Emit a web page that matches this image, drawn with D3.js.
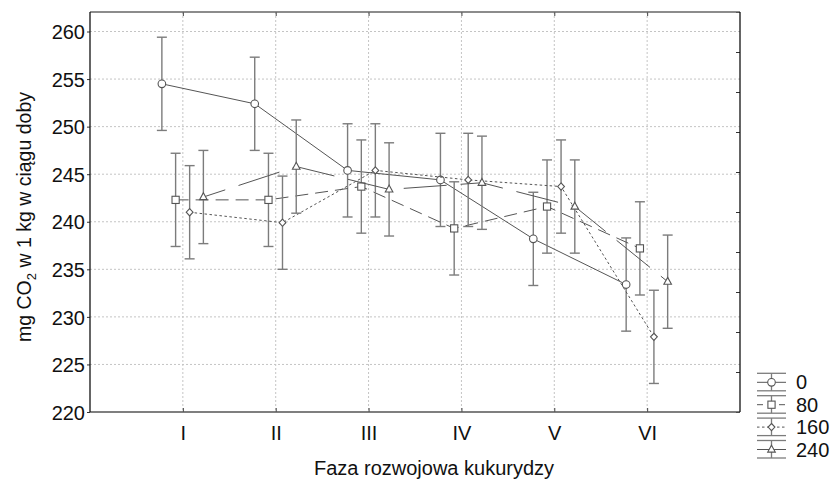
<!DOCTYPE html>
<html>
<head>
<meta charset="utf-8">
<script src="https://cdn.jsdelivr.net/npm/d3@7"></script>
<style>
  body { margin: 0; background: #fff; }
  svg { display: block; font-family: "Liberation Sans", Arial, sans-serif; }
</style>
</head>
<body>
<svg id="chart" width="830" height="480"></svg>
<script>
// phases of maize development and nitrogen doses
var phases = ["I", "II", "III", "IV", "V", "VI"];
var doses = ["0", "80", "160", "240"];

// mean CO2 output, mg per 1 kg per day
var co2_0   = [254.5, 252.4, 245.4, 244.4, 238.2, 233.4];
var co2_80  = [242.3, 242.3, 243.7, 239.3, 241.6, 237.2];
var co2_160 = [241.0, 239.9, 245.4, 244.4, 243.7, 227.9];
var co2_240 = [242.6, 245.8, 243.4, 244.1, 241.6, 233.7];

// half width of the confidence interval
var ci_0   = [4.9, 4.9, 4.9, 4.9, 4.9, 4.9];
var ci_80  = [4.9, 4.9, 4.9, 4.9, 4.9, 4.9];
var ci_160 = [4.9, 4.9, 4.9, 4.9, 4.9, 4.9];
var ci_240 = [4.9, 4.9, 4.9, 4.9, 4.9, 4.9];

var yTicks = [220, 225, 230, 235, 240, 245, 250, 255, 260];

var means = [co2_0, co2_80, co2_160, co2_240];
var cis = [ci_0, ci_80, ci_160, ci_240];

// styling per dose
var dodge = [-0.226, -0.078, 0.073, 0.221];
var dashes = ["", "13,7", "2.5,2.5", "43,14"];
var dashOffset = [0, 0, 0, 20];
var symbols = ["circle", "square", "diamond", "triangle"];

var plotL = 90, plotR = 740, plotT = 12, plotB = 412;
var lineColor = "#555";
var barColor = "#7c7c7c";
var fontSize = 20;

var svg = d3.select("#chart");

var x = d3.scaleLinear().domain([0, phases.length + 1]).range([plotL, plotR]);
var y = d3.scaleLinear().domain([220, 262.05]).range([plotB, plotT]);
var yRight = d3.scaleLinear().domain([0, 10]).range([plotB, plotT]);

// grid
var grid = svg.append("g").attr("class", "grid")
  .attr("stroke", "#c4c4c4")
  .attr("stroke-dasharray", "2,2");

grid.selectAll("line.h")
  .data(yTicks.slice(1))
  .enter().append("line")
  .attr("class", "h")
  .attr("x1", plotL).attr("x2", plotR)
  .attr("y1", function(d) { return y(d); })
  .attr("y2", function(d) { return y(d); });

grid.selectAll("line.v")
  .data(phases)
  .enter().append("line")
  .attr("class", "v")
  .attr("x1", function(d, i) { return x(i + 1); })
  .attr("x2", function(d, i) { return x(i + 1); })
  .attr("y1", plotT).attr("y2", plotB);

// y axis on the left
var yAxis = d3.axisLeft(y).tickValues(yTicks).tickSize(3).tickPadding(2);
var gy = svg.append("g")
  .attr("transform", "translate(" + plotL + ",0)")
  .call(yAxis);
gy.select(".domain").remove();
gy.selectAll(".tick line").attr("stroke", "#333");
gy.selectAll(".tick text")
  .attr("font-size", fontSize)
  .attr("font-family", "Liberation Sans, Arial, sans-serif")
  .attr("fill", "#111")
  .attr("dy", "0.36em");

// right side: ten inner ticks, no labels
var gr = svg.append("g")
  .attr("transform", "translate(" + plotR + ",0)")
  .call(d3.axisLeft(yRight).ticks(10).tickSize(4).tickFormat(""));
gr.select(".domain").remove();
gr.selectAll(".tick line").attr("stroke", "#333");

// x axis
var xAxis = d3.axisBottom(x)
  .tickValues(d3.range(1, phases.length + 1))
  .tickFormat(function(d) { return phases[d - 1]; })
  .tickSize(-4).tickPadding(14);
var gx = svg.append("g")
  .attr("transform", "translate(0," + plotB + ")")
  .call(xAxis);
gx.select(".domain").remove();
gx.selectAll(".tick line").attr("stroke", "#444");
gx.selectAll(".tick text")
  .attr("font-size", fontSize)
  .attr("font-family", "Liberation Sans, Arial, sans-serif")
  .attr("fill", "#111");

var gt = svg.append("g")
  .attr("transform", "translate(0," + plotT + ")")
  .call(d3.axisTop(x).tickValues(d3.range(1, phases.length + 1)).tickSize(-4).tickFormat(""));
gt.select(".domain").remove();
gt.selectAll(".tick line").attr("stroke", "#444");

// frame
svg.append("line").attr("x1", plotL).attr("x2", plotR).attr("y1", plotT).attr("y2", plotT)
  .attr("stroke", "#666").attr("stroke-width", 1.5);
svg.append("line").attr("x1", plotL).attr("x2", plotR).attr("y1", plotB).attr("y2", plotB)
  .attr("stroke", "#555").attr("stroke-width", 1.5);
svg.append("line").attr("x1", plotL).attr("x2", plotL).attr("y1", plotT).attr("y2", plotB)
  .attr("stroke", "#111").attr("stroke-width", 1.3);
svg.append("line").attr("x1", plotR).attr("x2", plotR).attr("y1", plotT).attr("y2", plotB)
  .attr("stroke", "#111").attr("stroke-width", 1.3);

// axis titles
svg.append("text")
  .attr("x", 434)
  .attr("y", 475)
  .attr("text-anchor", "middle")
  .attr("font-size", fontSize)
  .attr("fill", "#111")
  .text("Faza rozwojowa kukurydzy");

var ytitle = svg.append("text")
  .attr("transform", "translate(31,217) rotate(-90)")
  .attr("text-anchor", "middle")
  .attr("font-size", 19.5)
  .attr("fill", "#111");
ytitle.append("tspan").text("mg CO");
ytitle.append("tspan").attr("font-size", 13).attr("dy", 5).text("2");
ytitle.append("tspan").attr("dy", -5).text(" w 1 kg w ciągu doby");

// symbol drawing
function drawSymbol(sel, kind, cx, cy) {
  var s;
  if (kind === "circle") {
    s = sel.append("circle").attr("cx", cx).attr("cy", cy).attr("r", 3.8);
  } else if (kind === "square") {
    s = sel.append("rect").attr("x", cx - 3.6).attr("y", cy - 3.6)
      .attr("width", 7.2).attr("height", 7.2);
  } else if (kind === "diamond") {
    s = sel.append("path")
      .attr("d", "M" + cx + "," + (cy - 3.6) + "L" + (cx + 3.4) + "," + cy +
        "L" + cx + "," + (cy + 3.6) + "L" + (cx - 3.4) + "," + cy + "Z");
  } else {
    s = sel.append("path")
      .attr("d", "M" + cx + "," + (cy - 4.3) + "L" + (cx + 3.8) + "," + (cy + 2.6) +
        "L" + (cx - 3.8) + "," + (cy + 2.6) + "Z");
  }
  s.attr("fill", "#fff").attr("stroke", lineColor).attr("stroke-width", 1.1);
}

var line = d3.line()
  .x(function(d) { return x(d.i + 1 + d.off); })
  .y(function(d) { return y(d.v); });

var series = svg.append("g").attr("class", "series");

means.forEach(function(vals, k) {
  var pts = vals.map(function(v, i) { return { i: i, v: v, off: dodge[k], e: cis[k][i] }; });
  var g = series.append("g");

  g.append("path")
    .datum(pts)
    .attr("d", line)
    .attr("fill", "none")
    .attr("stroke", lineColor)
    .attr("stroke-width", 1)
    .attr("stroke-dasharray", dashes[k] || null)
    .attr("stroke-dashoffset", dashOffset[k]);

  var bars = g.selectAll("g.bar")
    .data(pts)
    .enter().append("g")
    .attr("class", "bar")
    .attr("stroke", barColor)
    .attr("stroke-width", 1.4);

  bars.append("line")
    .attr("x1", function(d) { return x(d.i + 1 + d.off); })
    .attr("x2", function(d) { return x(d.i + 1 + d.off); })
    .attr("y1", function(d) { return y(d.v + d.e); })
    .attr("y2", function(d) { return y(d.v - d.e); });
  bars.append("line")
    .attr("x1", function(d) { return x(d.i + 1 + d.off) - 5; })
    .attr("x2", function(d) { return x(d.i + 1 + d.off) + 5; })
    .attr("y1", function(d) { return y(d.v + d.e); })
    .attr("y2", function(d) { return y(d.v + d.e); });
  bars.append("line")
    .attr("x1", function(d) { return x(d.i + 1 + d.off) - 5; })
    .attr("x2", function(d) { return x(d.i + 1 + d.off) + 5; })
    .attr("y1", function(d) { return y(d.v - d.e); })
    .attr("y2", function(d) { return y(d.v - d.e); });

  pts.forEach(function(d) {
    drawSymbol(g, symbols[k], x(d.i + 1 + d.off), y(d.v));
  });
});

// legend
var legend = svg.append("g").attr("class", "legend");
doses.forEach(function(name, k) {
  var cy = 382.3 + 22.4 * k;
  var lg = legend.append("g");
  lg.append("line").attr("x1", 757).attr("x2", 786).attr("y1", cy - 9).attr("y2", cy - 9)
    .attr("stroke", barColor).attr("stroke-width", 1.3);
  lg.append("line").attr("x1", 757).attr("x2", 786).attr("y1", cy + 8.5).attr("y2", cy + 8.5)
    .attr("stroke", barColor).attr("stroke-width", 1.3);
  lg.append("line").attr("x1", 771.5).attr("x2", 771.5).attr("y1", cy - 9).attr("y2", cy + 8.5)
    .attr("stroke", barColor).attr("stroke-width", 1.3);
  lg.append("line").attr("x1", 757).attr("x2", 786).attr("y1", cy).attr("y2", cy)
    .attr("stroke", lineColor).attr("stroke-width", 1)
    .attr("stroke-dasharray", k === 1 ? "6,5" : (k === 2 ? dashes[k] : null));
  drawSymbol(lg, symbols[k], 771.5, cy);
  lg.append("text")
    .attr("x", 796)
    .attr("y", cy + 7)
    .attr("font-size", fontSize)
    .attr("fill", "#111")
    .text(name);
});
</script>
</body>
</html>
